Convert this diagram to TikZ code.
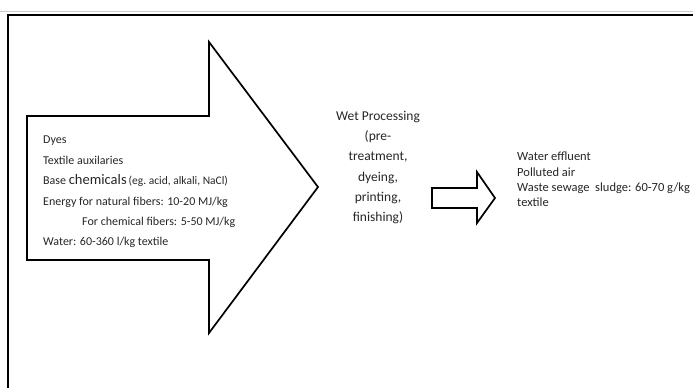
\documentclass[tikz,border=0pt]{standalone}
\usepackage{fontspec}
\setmainfont{Carlito}
\usetikzlibrary{positioning}
\tikzstyle{frame} = [line width = 2pt, draw = black]
\tikzstyle{blockarrow} = [line width = 1.7pt, draw = black, line join = miter]
\tikzstyle{textarea} = [inner sep = 0, text = black!85, align = left]
\begin{document}
\begin{tikzpicture}[x = 1pt, y = -1pt]
    \useasboundingbox (0, 0) rectangle (693, 388);
    % frame
    \draw [gray!40, line width = 0.6pt] (0, 11) -- (693, 11);
    \draw [frame] (8, 388) -- (8, 15) -- (693, 15);
    % big arrow
    \coordinate (big-tail-top) at (27, 116);
    \coordinate (big-tail-bottom) at (27, 260);
    \coordinate (big-tip) at (318, 187);
    \draw [blockarrow] (big-tail-top) -- (209, 116) -- (209, 42) -- (big-tip)
    -- (209, 333) -- (209, 260) -- (big-tail-bottom) -- cycle;
    % small arrow
    \coordinate (small-tail-top) at (432, 188);
    \coordinate (small-tail-bottom) at (432, 208);
    \coordinate (small-tip) at (495, 198);
    \draw [blockarrow] (small-tail-top) -- (477, 188) -- (477, 172) -- (small-tip)
    -- (477, 223) -- (477, 208) -- (small-tail-bottom) -- cycle;
    % inputs
    \node [textarea, anchor = north west, font = \fontsize{12}{20.4}\selectfont]
    (inputs) at (43, 136) {Dyes\\
      Textile auxilaries\\
      Base {\fontsize{14.5}{20}\selectfont chemicals}\,{\fontsize{11.5}{20}\selectfont(eg.\ acid, alkali, NaCl)}\\
      Energy for natural fibers: 10-20 MJ/kg\\
      \hspace*{39pt}For chemical fibers: 5-50 MJ/kg\\
      Water: 60-360 l/kg textile};
    % process
    \node [textarea, align = center, anchor = north, font = \fontsize{13.5}{20.2}\selectfont]
    (process) at (378, 111) {Wet Processing\\ (pre-\\ treatment,\\ dyeing,\\
      printing,\\ finishing)};
    % outputs
    \node [textarea, anchor = north west, font = \fontsize{12.5}{15.2}\selectfont]
    (outputs) at (517, 152) {Water effluent\\
      Polluted air\\
      Waste sewage\ \ sludge: 60-70 g/kg\\
      textile};
  \end{tikzpicture}
\end{document}
